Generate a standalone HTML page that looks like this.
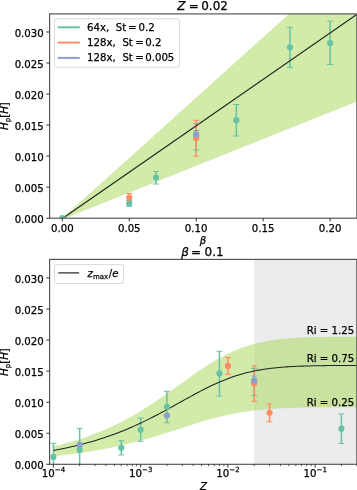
<!DOCTYPE html>
<html><head><meta charset="utf-8"><title>Figure</title>
<style>html,body{margin:0;padding:0;background:#fff}svg{display:block}text{stroke:#000;stroke-width:0.25px;stroke-linejoin:round}</style></head>
<body>
<svg width="357" height="490" viewBox="0 0 357 490" font-family='"DejaVu Sans", "Liberation Sans", sans-serif' font-size="10.2" fill="#000">
<rect width="357" height="490" fill="#fff"/>
<defs><clipPath id="c1"><rect x="49.6" y="13.9" width="307.25" height="204.3"/></clipPath><clipPath id="c2"><rect x="49.6" y="259.4" width="307.25" height="204.9"/></clipPath></defs>
<g clip-path="url(#c1)">
<polygon points="62.3,218.2 400,-86.07 400,84.28 66.5,217.7" fill="#a6d854" fill-opacity="0.5"/>
<line x1="129.25" y1="200.6" x2="129.25" y2="206.2" stroke="#66c2a5" stroke-width="1.5"/>
<line x1="156.03" y1="171.4" x2="156.03" y2="184" stroke="#66c2a5" stroke-width="1.5"/>
<line x1="196.2" y1="123.5" x2="196.2" y2="149.9" stroke="#66c2a5" stroke-width="1.5"/>
<line x1="236.37" y1="104.5" x2="236.37" y2="136" stroke="#66c2a5" stroke-width="1.5"/>
<line x1="289.93" y1="27.3" x2="289.93" y2="67.4" stroke="#66c2a5" stroke-width="1.5"/>
<line x1="330.1" y1="21.2" x2="330.1" y2="64.5" stroke="#66c2a5" stroke-width="1.5"/>
<line x1="129.25" y1="193.5" x2="129.25" y2="197.7" stroke="#fc8d62" stroke-width="1.5"/>
<line x1="196.2" y1="120.3" x2="196.2" y2="156.1" stroke="#fc8d62" stroke-width="1.5"/>
<line x1="196.2" y1="130.5" x2="196.2" y2="134.4" stroke="#8da0cb" stroke-width="1.5"/>
<line x1="62.8" y1="218.2" x2="400" y2="-15.48" stroke="#222222" stroke-width="1.15"/>
<circle cx="62.3" cy="218.2" r="3.1" fill="#66c2a5"/>
<circle cx="129.25" cy="203.4" r="3.1" fill="#66c2a5"/>
<circle cx="156.03" cy="177.5" r="3.1" fill="#66c2a5"/>
<circle cx="196.2" cy="136.7" r="3.1" fill="#66c2a5"/>
<circle cx="236.37" cy="120.2" r="3.1" fill="#66c2a5"/>
<circle cx="289.93" cy="47.3" r="3.1" fill="#66c2a5"/>
<circle cx="330.1" cy="43" r="3.1" fill="#66c2a5"/>
<line x1="126.25" y1="206.2" x2="132.25" y2="206.2" stroke="#66c2a5" stroke-width="1"/><line x1="126.25" y1="200.6" x2="132.25" y2="200.6" stroke="#66c2a5" stroke-width="1"/>
<line x1="153.03" y1="184" x2="159.03" y2="184" stroke="#66c2a5" stroke-width="1"/><line x1="153.03" y1="171.4" x2="159.03" y2="171.4" stroke="#66c2a5" stroke-width="1"/>
<line x1="193.2" y1="149.9" x2="199.2" y2="149.9" stroke="#66c2a5" stroke-width="1"/><line x1="193.2" y1="123.5" x2="199.2" y2="123.5" stroke="#66c2a5" stroke-width="1"/>
<line x1="233.37" y1="136" x2="239.37" y2="136" stroke="#66c2a5" stroke-width="1"/><line x1="233.37" y1="104.5" x2="239.37" y2="104.5" stroke="#66c2a5" stroke-width="1"/>
<line x1="286.93" y1="67.4" x2="292.93" y2="67.4" stroke="#66c2a5" stroke-width="1"/><line x1="286.93" y1="27.3" x2="292.93" y2="27.3" stroke="#66c2a5" stroke-width="1"/>
<line x1="327.1" y1="64.5" x2="333.1" y2="64.5" stroke="#66c2a5" stroke-width="1"/><line x1="327.1" y1="21.2" x2="333.1" y2="21.2" stroke="#66c2a5" stroke-width="1"/>
<circle cx="129.25" cy="197.7" r="3.1" fill="#fc8d62"/>
<circle cx="196.2" cy="138.2" r="3.1" fill="#fc8d62"/>
<line x1="126.25" y1="193.5" x2="132.25" y2="193.5" stroke="#fc8d62" stroke-width="1"/>
<line x1="193.2" y1="156.1" x2="199.2" y2="156.1" stroke="#fc8d62" stroke-width="1"/><line x1="193.2" y1="120.3" x2="199.2" y2="120.3" stroke="#fc8d62" stroke-width="1"/>
<circle cx="196.2" cy="134.4" r="3.1" fill="#8da0cb"/>
<line x1="193.2" y1="130.5" x2="199.2" y2="130.5" stroke="#8da0cb" stroke-width="1"/>
</g>
<rect x="49.6" y="13.9" width="307.25" height="204.3" fill="none" stroke="#505050" stroke-width="1.15"/>
<line x1="62.3" y1="218.2" x2="62.3" y2="221.4" stroke="#222" stroke-width="0.9"/>
<text x="62.3" y="231.5" text-anchor="middle">0.00</text>
<line x1="129.25" y1="218.2" x2="129.25" y2="221.4" stroke="#222" stroke-width="0.9"/>
<text x="129.25" y="231.5" text-anchor="middle">0.05</text>
<line x1="196.2" y1="218.2" x2="196.2" y2="221.4" stroke="#222" stroke-width="0.9"/>
<text x="196.2" y="231.5" text-anchor="middle">0.10</text>
<line x1="263.15" y1="218.2" x2="263.15" y2="221.4" stroke="#222" stroke-width="0.9"/>
<text x="263.15" y="231.5" text-anchor="middle">0.15</text>
<line x1="330.1" y1="218.2" x2="330.1" y2="221.4" stroke="#222" stroke-width="0.9"/>
<text x="330.1" y="231.5" text-anchor="middle">0.20</text>
<line x1="49.6" y1="218.2" x2="46.3" y2="218.2" stroke="#222" stroke-width="0.9"/>
<text x="43.8" y="222.9" text-anchor="end">0.000</text>
<line x1="49.6" y1="187.16" x2="46.3" y2="187.16" stroke="#222" stroke-width="0.9"/>
<text x="43.8" y="191.86" text-anchor="end">0.005</text>
<line x1="49.6" y1="156.13" x2="46.3" y2="156.13" stroke="#222" stroke-width="0.9"/>
<text x="43.8" y="160.83" text-anchor="end">0.010</text>
<line x1="49.6" y1="125.09" x2="46.3" y2="125.09" stroke="#222" stroke-width="0.9"/>
<text x="43.8" y="129.79" text-anchor="end">0.015</text>
<line x1="49.6" y1="94.06" x2="46.3" y2="94.06" stroke="#222" stroke-width="0.9"/>
<text x="43.8" y="98.76" text-anchor="end">0.020</text>
<line x1="49.6" y1="63.02" x2="46.3" y2="63.02" stroke="#222" stroke-width="0.9"/>
<text x="43.8" y="67.72" text-anchor="end">0.025</text>
<line x1="49.6" y1="31.99" x2="46.3" y2="31.99" stroke="#222" stroke-width="0.9"/>
<text x="43.8" y="36.69" text-anchor="end">0.030</text>
<text font-size="12" y="9.8"><tspan x="177.3" font-style="italic">Z</tspan><tspan x="188.8">=</tspan><tspan x="201.2">0.02</tspan></text>
<text x="203.1" y="243.7" text-anchor="middle" font-style="italic">β</text>
<g transform="translate(8.3,116.3) rotate(-90)"><text x="-13.6" y="0"><tspan font-style="italic">H</tspan><tspan font-size="7" dy="1.6">p</tspan><tspan dy="-1.6">[</tspan><tspan font-style="italic">H</tspan><tspan>]</tspan></text></g>
<rect x="54.4" y="18.8" width="125" height="48.5" rx="2" ry="2" fill="#fff" fill-opacity="0.8" stroke="#d6d6d6" stroke-width="0.9"/>
<line x1="57.6" y1="27.3" x2="79.8" y2="27.3" stroke="#66c2a5" stroke-width="2"/>
<text y="30.8"><tspan x="87.0">64x,</tspan><tspan x="115.8">St</tspan><tspan x="128.1">=</tspan><tspan x="138.6">0.2</tspan></text>
<line x1="57.6" y1="42.6" x2="79.8" y2="42.6" stroke="#fc8d62" stroke-width="2"/>
<text y="46.0"><tspan x="87.0">128x,</tspan><tspan x="122.4">St</tspan><tspan x="135.2">=</tspan><tspan x="145.2">0.2</tspan></text>
<line x1="57.6" y1="57.9" x2="79.8" y2="57.9" stroke="#8da0cb" stroke-width="2"/>
<text y="61.0"><tspan x="87.0">128x,</tspan><tspan x="122.4">St</tspan><tspan x="135.2">=</tspan><tspan x="145.2">0.005</tspan></text>
<g clip-path="url(#c2)">
<rect x="254.16" y="259.4" width="104.69" height="204.9" fill="#808080" fill-opacity="0.15"/>
<polygon points="53.4,446.37 55.94,445.77 58.47,445.15 61.01,444.51 63.55,443.85 66.09,443.17 68.62,442.47 71.16,441.74 73.7,440.99 76.23,440.22 78.77,439.42 81.31,438.6 83.84,437.75 86.38,436.88 88.92,435.98 91.46,435.05 93.99,434.1 96.53,433.12 99.07,432.11 101.6,431.07 104.14,429.99 106.68,428.89 109.22,427.76 111.75,426.6 114.29,425.41 116.83,424.18 119.36,422.92 121.9,421.63 124.44,420.31 126.98,418.95 129.51,417.57 132.05,416.15 134.59,414.69 137.12,413.21 139.66,411.7 142.2,410.15 144.74,408.57 147.27,406.97 149.81,405.34 152.35,403.68 154.88,401.99 157.42,400.28 159.96,398.55 162.49,396.8 165.03,395.03 167.57,393.24 170.11,391.44 172.64,389.63 175.18,387.81 177.72,385.99 180.25,384.16 182.79,382.33 185.33,380.5 187.87,378.69 190.4,376.88 192.94,375.09 195.48,373.32 198.01,371.57 200.55,369.84 203.09,368.14 205.63,366.48 208.16,364.85 210.7,363.26 213.24,361.71 215.77,360.21 218.31,358.75 220.85,357.34 223.38,355.98 225.92,354.68 228.46,353.43 231,352.24 233.53,351.1 236.07,350.02 238.61,348.99 241.14,348.02 243.68,347.11 246.22,346.25 248.76,345.44 251.29,344.69 253.83,343.98 256.37,343.33 258.9,342.72 261.44,342.16 263.98,341.64 266.52,341.16 269.05,340.72 271.59,340.32 274.13,339.95 276.66,339.62 279.2,339.31 281.74,339.03 284.27,338.78 286.81,338.55 289.35,338.34 291.89,338.15 294.42,337.98 296.96,337.83 299.5,337.7 302.03,337.57 304.57,337.46 307.11,337.37 309.65,337.28 312.18,337.2 314.72,337.13 317.26,337.07 319.79,337.01 322.33,336.96 324.87,336.92 327.41,336.88 329.94,336.85 332.48,336.82 335.02,336.79 337.55,336.77 340.09,336.75 342.63,336.73 345.16,336.71 347.7,336.7 350.24,336.68 352.78,336.67 355.31,336.66 357.85,336.65 357.85,407.21 355.31,407.22 352.78,407.22 350.24,407.23 347.7,407.23 345.16,407.24 342.63,407.25 340.09,407.26 337.55,407.27 335.02,407.28 332.48,407.29 329.94,407.3 327.41,407.32 324.87,407.33 322.33,407.35 319.79,407.38 317.26,407.4 314.72,407.43 312.18,407.46 309.65,407.49 307.11,407.53 304.57,407.58 302.03,407.63 299.5,407.68 296.96,407.74 294.42,407.81 291.89,407.89 289.35,407.97 286.81,408.06 284.27,408.16 281.74,408.28 279.2,408.4 276.66,408.54 274.13,408.69 271.59,408.86 269.05,409.04 266.52,409.23 263.98,409.45 261.44,409.68 258.9,409.93 256.37,410.2 253.83,410.49 251.29,410.81 248.76,411.14 246.22,411.5 243.68,411.89 241.14,412.3 238.61,412.73 236.07,413.19 233.53,413.67 231,414.18 228.46,414.72 225.92,415.28 223.38,415.86 220.85,416.47 218.31,417.1 215.77,417.75 213.24,418.42 210.7,419.11 208.16,419.82 205.63,420.55 203.09,421.3 200.55,422.06 198.01,422.83 195.48,423.61 192.94,424.4 190.4,425.21 187.87,426.01 185.33,426.83 182.79,427.64 180.25,428.46 177.72,429.28 175.18,430.09 172.64,430.91 170.11,431.72 167.57,432.52 165.03,433.32 162.49,434.11 159.96,434.9 157.42,435.67 154.88,436.44 152.35,437.19 149.81,437.93 147.27,438.66 144.74,439.38 142.2,440.08 139.66,440.77 137.12,441.45 134.59,442.12 132.05,442.76 129.51,443.4 126.98,444.02 124.44,444.63 121.9,445.22 119.36,445.79 116.83,446.36 114.29,446.91 111.75,447.44 109.22,447.96 106.68,448.47 104.14,448.96 101.6,449.44 99.07,449.9 96.53,450.35 93.99,450.79 91.46,451.22 88.92,451.63 86.38,452.04 83.84,452.43 81.31,452.81 78.77,453.17 76.23,453.53 73.7,453.88 71.16,454.21 68.62,454.54 66.09,454.85 63.55,455.16 61.01,455.45 58.47,455.74 55.94,456.01 53.4,456.28" fill="#a6d854" fill-opacity="0.5"/>
<line x1="53.4" y1="443.3" x2="53.4" y2="470.5" stroke="#66c2a5" stroke-width="1.5"/>
<line x1="79.66" y1="428.4" x2="79.66" y2="471.6" stroke="#66c2a5" stroke-width="1.5"/>
<line x1="121.29" y1="440.8" x2="121.29" y2="454.9" stroke="#66c2a5" stroke-width="1.5"/>
<line x1="140.65" y1="418.2" x2="140.65" y2="441.3" stroke="#66c2a5" stroke-width="1.5"/>
<line x1="166.91" y1="391.3" x2="166.91" y2="422.7" stroke="#66c2a5" stroke-width="1.5"/>
<line x1="219.44" y1="351.3" x2="219.44" y2="396.1" stroke="#66c2a5" stroke-width="1.5"/>
<line x1="254.16" y1="368.5" x2="254.16" y2="395.4" stroke="#66c2a5" stroke-width="1.5"/>
<line x1="341.41" y1="414" x2="341.41" y2="443.4" stroke="#66c2a5" stroke-width="1.5"/>
<line x1="227.9" y1="357.6" x2="227.9" y2="374.4" stroke="#fc8d62" stroke-width="1.5"/>
<line x1="254.16" y1="365.9" x2="254.16" y2="401.3" stroke="#fc8d62" stroke-width="1.5"/>
<line x1="269.53" y1="403.8" x2="269.53" y2="421.8" stroke="#fc8d62" stroke-width="1.5"/>
<line x1="254.16" y1="376.1" x2="254.16" y2="380.6" stroke="#8da0cb" stroke-width="1.5"/>
<polyline points="53.4,450.41 55.94,449.95 58.47,449.47 61.01,448.97 63.55,448.46 66.09,447.93 68.62,447.39 71.16,446.82 73.7,446.24 76.23,445.65 78.77,445.03 81.31,444.39 83.84,443.74 86.38,443.06 88.92,442.36 91.46,441.65 93.99,440.91 96.53,440.15 99.07,439.36 101.6,438.56 104.14,437.73 106.68,436.87 109.22,436 111.75,435.1 114.29,434.17 116.83,433.22 119.36,432.25 121.9,431.25 124.44,430.22 126.98,429.17 129.51,428.1 132.05,427 134.59,425.88 137.12,424.73 139.66,423.55 142.2,422.36 144.74,421.14 147.27,419.89 149.81,418.63 152.35,417.34 154.88,416.04 157.42,414.71 159.96,413.37 162.49,412.02 165.03,410.64 167.57,409.26 170.11,407.87 172.64,406.46 175.18,405.05 177.72,403.64 180.25,402.22 182.79,400.81 185.33,399.39 187.87,397.99 190.4,396.59 192.94,395.2 195.48,393.83 198.01,392.47 200.55,391.13 203.09,389.82 205.63,388.53 208.16,387.27 210.7,386.03 213.24,384.83 215.77,383.67 218.31,382.54 220.85,381.45 223.38,380.4 225.92,379.39 228.46,378.42 231,377.5 233.53,376.61 236.07,375.78 238.61,374.98 241.14,374.23 243.68,373.52 246.22,372.86 248.76,372.23 251.29,371.65 253.83,371.1 256.37,370.6 258.9,370.13 261.44,369.69 263.98,369.29 266.52,368.92 269.05,368.58 271.59,368.27 274.13,367.98 276.66,367.72 279.2,367.48 281.74,367.27 284.27,367.07 286.81,366.89 289.35,366.73 291.89,366.59 294.42,366.46 296.96,366.34 299.5,366.23 302.03,366.14 304.57,366.05 307.11,365.98 309.65,365.91 312.18,365.85 314.72,365.8 317.26,365.75 319.79,365.7 322.33,365.67 324.87,365.63 327.41,365.6 329.94,365.58 332.48,365.55 335.02,365.53 337.55,365.51 340.09,365.5 342.63,365.48 345.16,365.47 347.7,365.46 350.24,365.45 352.78,365.44 355.31,365.43 357.85,365.43" fill="none" stroke="#222222" stroke-width="1.05"/>
<circle cx="53.4" cy="456.9" r="3.1" fill="#66c2a5"/>
<circle cx="79.66" cy="450" r="3.1" fill="#66c2a5"/>
<circle cx="121.29" cy="447.8" r="3.1" fill="#66c2a5"/>
<circle cx="140.65" cy="429.8" r="3.1" fill="#66c2a5"/>
<circle cx="166.91" cy="406.8" r="3.1" fill="#66c2a5"/>
<circle cx="219.44" cy="373.4" r="3.1" fill="#66c2a5"/>
<circle cx="254.16" cy="382" r="3.1" fill="#66c2a5"/>
<circle cx="341.41" cy="428.7" r="3.1" fill="#66c2a5"/>
<line x1="50.4" y1="470.5" x2="56.4" y2="470.5" stroke="#66c2a5" stroke-width="1"/><line x1="50.4" y1="443.3" x2="56.4" y2="443.3" stroke="#66c2a5" stroke-width="1"/>
<line x1="76.66" y1="471.6" x2="82.66" y2="471.6" stroke="#66c2a5" stroke-width="1"/><line x1="76.66" y1="428.4" x2="82.66" y2="428.4" stroke="#66c2a5" stroke-width="1"/>
<line x1="118.29" y1="454.9" x2="124.29" y2="454.9" stroke="#66c2a5" stroke-width="1"/><line x1="118.29" y1="440.8" x2="124.29" y2="440.8" stroke="#66c2a5" stroke-width="1"/>
<line x1="137.65" y1="441.3" x2="143.65" y2="441.3" stroke="#66c2a5" stroke-width="1"/><line x1="137.65" y1="418.2" x2="143.65" y2="418.2" stroke="#66c2a5" stroke-width="1"/>
<line x1="163.91" y1="422.7" x2="169.91" y2="422.7" stroke="#66c2a5" stroke-width="1"/><line x1="163.91" y1="391.3" x2="169.91" y2="391.3" stroke="#66c2a5" stroke-width="1"/>
<line x1="216.44" y1="396.1" x2="222.44" y2="396.1" stroke="#66c2a5" stroke-width="1"/><line x1="216.44" y1="351.3" x2="222.44" y2="351.3" stroke="#66c2a5" stroke-width="1"/>
<line x1="251.16" y1="395.4" x2="257.16" y2="395.4" stroke="#66c2a5" stroke-width="1"/><line x1="251.16" y1="368.5" x2="257.16" y2="368.5" stroke="#66c2a5" stroke-width="1"/>
<line x1="338.41" y1="443.4" x2="344.41" y2="443.4" stroke="#66c2a5" stroke-width="1"/><line x1="338.41" y1="414" x2="344.41" y2="414" stroke="#66c2a5" stroke-width="1"/>
<circle cx="227.9" cy="365.9" r="3.1" fill="#fc8d62"/>
<circle cx="254.16" cy="383.6" r="3.1" fill="#fc8d62"/>
<circle cx="269.53" cy="412.8" r="3.1" fill="#fc8d62"/>
<line x1="224.9" y1="374.4" x2="230.9" y2="374.4" stroke="#fc8d62" stroke-width="1"/><line x1="224.9" y1="357.6" x2="230.9" y2="357.6" stroke="#fc8d62" stroke-width="1"/>
<line x1="251.16" y1="401.3" x2="257.16" y2="401.3" stroke="#fc8d62" stroke-width="1"/><line x1="251.16" y1="365.9" x2="257.16" y2="365.9" stroke="#fc8d62" stroke-width="1"/>
<line x1="266.53" y1="421.8" x2="272.53" y2="421.8" stroke="#fc8d62" stroke-width="1"/><line x1="266.53" y1="403.8" x2="272.53" y2="403.8" stroke="#fc8d62" stroke-width="1"/>
<circle cx="79.66" cy="444.9" r="3.1" fill="#8da0cb"/>
<circle cx="166.91" cy="415.5" r="3.1" fill="#8da0cb"/>
<circle cx="254.16" cy="380.6" r="3.1" fill="#8da0cb"/>
<line x1="251.16" y1="376.1" x2="257.16" y2="376.1" stroke="#8da0cb" stroke-width="1"/>
</g>
<rect x="49.6" y="259.4" width="307.25" height="204.9" fill="none" stroke="#505050" stroke-width="1.15"/>
<line x1="49.6" y1="464.3" x2="46.3" y2="464.3" stroke="#222" stroke-width="0.9"/>
<text x="43.8" y="469" text-anchor="end">0.000</text>
<line x1="49.6" y1="433.25" x2="46.3" y2="433.25" stroke="#222" stroke-width="0.9"/>
<text x="43.8" y="437.95" text-anchor="end">0.005</text>
<line x1="49.6" y1="402.2" x2="46.3" y2="402.2" stroke="#222" stroke-width="0.9"/>
<text x="43.8" y="406.9" text-anchor="end">0.010</text>
<line x1="49.6" y1="371.15" x2="46.3" y2="371.15" stroke="#222" stroke-width="0.9"/>
<text x="43.8" y="375.85" text-anchor="end">0.015</text>
<line x1="49.6" y1="340.1" x2="46.3" y2="340.1" stroke="#222" stroke-width="0.9"/>
<text x="43.8" y="344.8" text-anchor="end">0.020</text>
<line x1="49.6" y1="309.05" x2="46.3" y2="309.05" stroke="#222" stroke-width="0.9"/>
<text x="43.8" y="313.75" text-anchor="end">0.025</text>
<line x1="49.6" y1="278" x2="46.3" y2="278" stroke="#222" stroke-width="0.9"/>
<text x="43.8" y="282.7" text-anchor="end">0.030</text>
<line x1="53.4" y1="464.3" x2="53.4" y2="467.5" stroke="#222" stroke-width="0.9"/>
<text x="41.8" y="476.5">10<tspan font-size="7" dy="-4.2">−4</tspan></text>
<line x1="79.66" y1="464.3" x2="79.66" y2="466.3" stroke="#000" stroke-width="0.6"/>
<line x1="95.03" y1="464.3" x2="95.03" y2="466.3" stroke="#000" stroke-width="0.6"/>
<line x1="105.93" y1="464.3" x2="105.93" y2="466.3" stroke="#000" stroke-width="0.6"/>
<line x1="114.39" y1="464.3" x2="114.39" y2="466.3" stroke="#000" stroke-width="0.6"/>
<line x1="121.29" y1="464.3" x2="121.29" y2="466.3" stroke="#000" stroke-width="0.6"/>
<line x1="127.13" y1="464.3" x2="127.13" y2="466.3" stroke="#000" stroke-width="0.6"/>
<line x1="132.19" y1="464.3" x2="132.19" y2="466.3" stroke="#000" stroke-width="0.6"/>
<line x1="136.66" y1="464.3" x2="136.66" y2="466.3" stroke="#000" stroke-width="0.6"/>
<line x1="140.65" y1="464.3" x2="140.65" y2="467.5" stroke="#222" stroke-width="0.9"/>
<text x="129.05" y="476.5">10<tspan font-size="7" dy="-4.2">−3</tspan></text>
<line x1="166.91" y1="464.3" x2="166.91" y2="466.3" stroke="#000" stroke-width="0.6"/>
<line x1="182.28" y1="464.3" x2="182.28" y2="466.3" stroke="#000" stroke-width="0.6"/>
<line x1="193.18" y1="464.3" x2="193.18" y2="466.3" stroke="#000" stroke-width="0.6"/>
<line x1="201.64" y1="464.3" x2="201.64" y2="466.3" stroke="#000" stroke-width="0.6"/>
<line x1="208.54" y1="464.3" x2="208.54" y2="466.3" stroke="#000" stroke-width="0.6"/>
<line x1="214.38" y1="464.3" x2="214.38" y2="466.3" stroke="#000" stroke-width="0.6"/>
<line x1="219.44" y1="464.3" x2="219.44" y2="466.3" stroke="#000" stroke-width="0.6"/>
<line x1="223.91" y1="464.3" x2="223.91" y2="466.3" stroke="#000" stroke-width="0.6"/>
<line x1="227.9" y1="464.3" x2="227.9" y2="467.5" stroke="#222" stroke-width="0.9"/>
<text x="216.3" y="476.5">10<tspan font-size="7" dy="-4.2">−2</tspan></text>
<line x1="254.16" y1="464.3" x2="254.16" y2="466.3" stroke="#000" stroke-width="0.6"/>
<line x1="269.53" y1="464.3" x2="269.53" y2="466.3" stroke="#000" stroke-width="0.6"/>
<line x1="280.43" y1="464.3" x2="280.43" y2="466.3" stroke="#000" stroke-width="0.6"/>
<line x1="288.89" y1="464.3" x2="288.89" y2="466.3" stroke="#000" stroke-width="0.6"/>
<line x1="295.79" y1="464.3" x2="295.79" y2="466.3" stroke="#000" stroke-width="0.6"/>
<line x1="301.63" y1="464.3" x2="301.63" y2="466.3" stroke="#000" stroke-width="0.6"/>
<line x1="306.69" y1="464.3" x2="306.69" y2="466.3" stroke="#000" stroke-width="0.6"/>
<line x1="311.16" y1="464.3" x2="311.16" y2="466.3" stroke="#000" stroke-width="0.6"/>
<line x1="315.15" y1="464.3" x2="315.15" y2="467.5" stroke="#222" stroke-width="0.9"/>
<text x="303.55" y="476.5">10<tspan font-size="7" dy="-4.2">−1</tspan></text>
<line x1="341.41" y1="464.3" x2="341.41" y2="466.3" stroke="#000" stroke-width="0.6"/>
<line x1="356.78" y1="464.3" x2="356.78" y2="466.3" stroke="#000" stroke-width="0.6"/>
<text font-size="12" y="256"><tspan x="181.3" font-style="italic">β</tspan><tspan x="191.0">=</tspan><tspan x="204.6">0.1</tspan></text>
<text x="203.5" y="490.3" text-anchor="middle" font-style="italic">Z</text>
<g transform="translate(8.3,362.3) rotate(-90)"><text x="-13.6" y="0"><tspan font-style="italic">H</tspan><tspan font-size="7" dy="1.6">p</tspan><tspan dy="-1.6">[</tspan><tspan font-style="italic">H</tspan><tspan>]</tspan></text></g>
<text x="354.3" y="334.0" text-anchor="end">Ri = 1.25</text>
<text x="354.3" y="361.6" text-anchor="end">Ri = 0.75</text>
<text x="354.3" y="405.6" text-anchor="end">Ri = 0.25</text>
<rect x="54.5" y="264.6" width="69" height="18.9" rx="2" ry="2" fill="#fff" fill-opacity="0.8" stroke="#d6d6d6" stroke-width="0.9"/>
<line x1="58.3" y1="272.9" x2="79.1" y2="272.9" stroke="#222222" stroke-width="1.2"/>
<text y="277"><tspan x="87.4" font-style="italic">z</tspan><tspan x="93" font-size="7" dy="1.5">max</tspan><tspan x="108.7" dy="-1.5">/</tspan><tspan x="112.3" font-style="italic">e</tspan></text>
</svg>
</body></html>
